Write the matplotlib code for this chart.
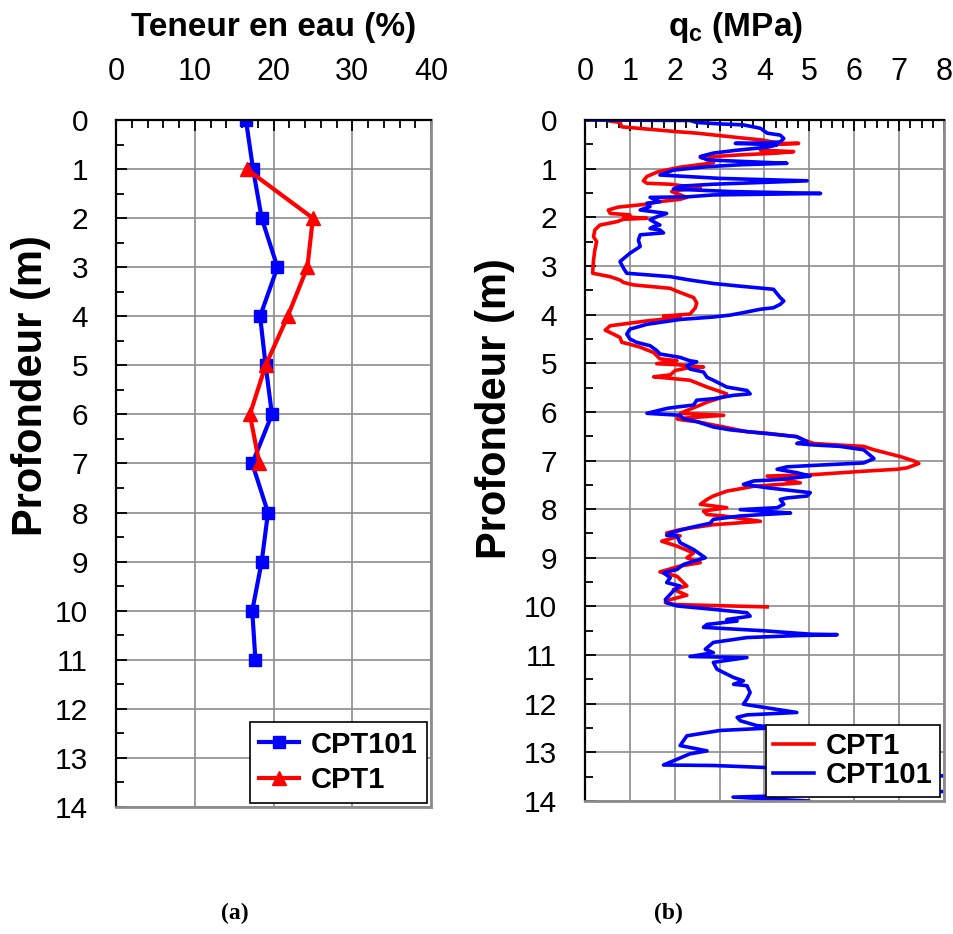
import matplotlib
matplotlib.use("Agg")
import matplotlib.pyplot as plt
from matplotlib.ticker import MultipleLocator

plt.rcParams['font.family'] = ['Liberation Sans', 'DejaVu Sans']
plt.rcParams['mathtext.fontset'] = 'custom'
plt.rcParams['mathtext.rm'] = 'Liberation Sans:bold'
plt.rcParams['mathtext.default'] = 'rm'

# (a) water content vs depth
depth_w101 = [0, 1, 2, 3, 4, 5, 6, 7, 8, 9, 10, 11]
w101 = [16.5, 17.4, 18.5, 20.5, 18.3, 19.0, 19.8, 17.3, 19.3, 18.5, 17.3, 17.7]
depth_w1 = [1, 2, 3, 4, 5, 6, 7]
w1 = [16.6, 25.0, 24.3, 21.8, 19.0, 17.0, 18.2]

# (b) cone resistance profiles
qc1 = [0.55, 0.78, 0.82, 2.05, 2.49, 3.09, 3.61, 3.94, 4.35, 4.76, 4.06, 3.94, 3.91, 4.65, 4.28,
       3.39, 2.57, 2.86, 2.86, 2.12, 1.64, 1.38, 1.30, 1.38, 1.90, 2.57, 2.12, 1.93, 2.27, 2.12,
       1.64, 1.38, 0.74, 0.52, 0.56, 1.00, 0.86, 1.38, 0.86, 0.71, 0.33, 0.22, 0.19, 0.26, 0.22,
       0.19, 0.17, 0.56, 0.78, 0.86, 1.08, 1.90, 2.05, 2.42, 2.49, 2.46, 2.34, 1.75, 2.12, 1.38,
       0.56, 0.45, 0.63, 0.78, 0.82, 1.00, 1.23, 1.53, 1.67, 2.05, 1.60, 2.05, 2.64, 2.27, 2.01,
       1.90, 1.53, 1.90, 2.34, 2.72, 3.16, 3.09, 2.72, 2.57, 2.12, 3.09, 2.05, 2.19, 2.49, 2.86,
       3.09, 3.61, 4.06, 4.72, 4.87, 5.10, 5.62, 6.21, 6.44, 7.03, 7.33, 7.44, 7.18, 6.96, 6.21,
       5.10, 4.06, 4.80, 3.76, 3.16, 2.86, 2.72, 2.57, 3.16, 2.64, 2.72, 3.09, 3.91, 3.46, 2.86,
       2.12, 1.82, 2.12, 1.71, 2.05, 2.42, 2.27, 2.57, 2.12, 1.67, 2.05, 2.27, 1.97, 2.27, 1.90,
       1.79, 1.97, 4.06]
z1 = [0.02, 0.05, 0.14, 0.24, 0.27, 0.33, 0.38, 0.41, 0.48, 0.48, 0.51, 0.56, 0.62, 0.65, 0.68,
      0.72, 0.77, 0.82, 0.88, 0.97, 1.06, 1.16, 1.25, 1.30, 1.32, 1.40, 1.44, 1.47, 1.59, 1.63,
      1.68, 1.73, 1.79, 1.85, 1.92, 1.95, 1.99, 2.02, 2.04, 2.09, 2.16, 2.26, 2.40, 2.50, 2.67,
      2.88, 3.15, 3.22, 3.29, 3.34, 3.39, 3.46, 3.52, 3.65, 3.76, 3.86, 3.99, 4.03, 4.06, 4.13,
      4.23, 4.32, 4.40, 4.47, 4.57, 4.61, 4.67, 4.78, 4.91, 4.95, 5.01, 5.03, 5.08, 5.10, 5.15,
      5.24, 5.28, 5.31, 5.35, 5.49, 5.63, 5.69, 5.80, 5.86, 6.03, 6.07, 6.14, 6.17, 6.20, 6.27,
      6.31, 6.41, 6.44, 6.51, 6.58, 6.65, 6.68, 6.71, 6.78, 6.92, 7.01, 7.06, 7.15, 7.18, 7.22,
      7.29, 7.32, 7.46, 7.53, 7.63, 7.73, 7.80, 7.90, 7.97, 8.04, 8.11, 8.14, 8.25, 8.28, 8.32,
      8.42, 8.49, 8.55, 8.66, 8.76, 8.90, 9.00, 9.10, 9.17, 9.29, 9.38, 9.58, 9.65, 9.77, 9.86,
      9.92, 9.96, 10.01]

qc101 = [0.00, 2.34, 2.49, 3.01, 3.53, 3.91, 4.06, 4.35, 4.43, 4.35, 4.06, 3.35, 4.28, 4.06, 3.39,
         2.86, 2.57, 2.72, 4.50, 3.46, 2.72, 1.97, 1.67, 3.01, 4.95, 2.86, 2.12, 1.97, 3.24, 5.25,
         2.86, 2.27, 1.45, 1.67, 1.38, 1.45, 1.23, 1.82, 1.60, 1.45, 1.67, 1.53, 1.45, 1.67, 1.75,
         1.23, 1.19, 1.23, 1.00, 0.78, 0.86, 0.93, 1.90, 2.34, 2.86, 3.39, 4.20, 4.35, 4.43, 4.35,
         4.20, 3.91, 3.53, 3.24, 2.86, 2.12, 1.38, 1.00, 0.93, 1.00, 1.15, 1.45, 1.60, 1.67, 2.12,
         2.34, 2.49, 2.27, 2.34, 2.64, 2.72, 2.86, 3.01, 3.16, 3.61, 3.68, 3.31, 2.86, 2.49, 2.42,
         2.05, 1.82, 1.38, 2.12, 2.19, 2.49, 2.86, 3.24, 3.98, 4.72, 4.95, 4.72, 5.10, 5.69, 6.21,
         6.44, 6.21, 5.10, 4.50, 4.28, 4.72, 5.02, 4.35, 3.76, 3.53, 4.06, 4.43, 5.02, 4.95, 4.50,
         4.35, 4.43, 4.28, 3.46, 4.58, 3.98, 3.46, 2.86, 2.79, 2.34, 1.90, 1.82, 2.05, 2.12, 2.42,
         2.68, 2.42, 2.19, 2.05, 1.75, 1.90, 1.82, 2.12, 1.97, 1.90, 1.79, 1.82, 2.05, 2.86, 3.61,
         3.68, 3.16, 3.39, 2.72, 2.64, 3.98, 5.02, 5.62, 4.72, 3.61, 2.86, 2.68, 2.86, 2.34, 3.61,
         2.86, 2.94, 3.09, 3.31, 3.53, 3.31, 3.61, 3.68, 3.61, 3.53, 4.72, 3.61, 3.39, 3.46, 3.83,
         4.35, 3.01, 2.27, 2.12, 2.72, 2.34, 1.75, 2.86, 3.98, 6.50, 8.60, 8.60, 3.30, 5.00, 3.30]
z101 = [0.00, 0.01, 0.05, 0.08, 0.10, 0.17, 0.27, 0.31, 0.38, 0.45, 0.47, 0.48, 0.51, 0.56, 0.62,
        0.68, 0.75, 0.82, 0.89, 0.92, 0.96, 1.03, 1.13, 1.20, 1.25, 1.32, 1.36, 1.42, 1.47, 1.51,
        1.54, 1.58, 1.59, 1.68, 1.71, 1.78, 1.85, 1.92, 1.99, 2.05, 2.16, 2.19, 2.23, 2.26, 2.32,
        2.36, 2.47, 2.60, 2.74, 2.91, 3.05, 3.15, 3.22, 3.29, 3.36, 3.41, 3.48, 3.65, 3.72, 3.79,
        3.86, 3.89, 3.96, 4.01, 4.05, 4.10, 4.20, 4.30, 4.40, 4.50, 4.57, 4.64, 4.74, 4.81, 4.88,
        4.95, 4.97, 5.05, 5.12, 5.18, 5.29, 5.35, 5.42, 5.49, 5.56, 5.63, 5.66, 5.73, 5.76, 5.86,
        5.90, 5.93, 6.03, 6.07, 6.14, 6.20, 6.31, 6.37, 6.44, 6.51, 6.61, 6.65, 6.68, 6.71, 6.78,
        6.96, 7.05, 7.10, 7.13, 7.18, 7.25, 7.32, 7.39, 7.42, 7.49, 7.56, 7.60, 7.66, 7.73, 7.77,
        7.80, 7.90, 7.97, 8.01, 8.08, 8.11, 8.14, 8.21, 8.29, 8.38, 8.49, 8.54, 8.55, 8.69, 8.83,
        9.00, 9.07, 9.14, 9.24, 9.31, 9.41, 9.51, 9.58, 9.68, 9.75, 9.86, 9.92, 9.99, 10.06, 10.13,
        10.20, 10.27, 10.30, 10.37, 10.43, 10.50, 10.57, 10.58, 10.60, 10.64, 10.74, 10.88, 10.95, 11.03, 11.05,
        11.15, 11.29, 11.36, 11.46, 11.53, 11.60, 11.63, 11.77, 11.90, 12.01, 12.18, 12.23, 12.28, 12.35, 12.45,
        12.49, 12.55, 12.66, 12.86, 12.97, 13.03, 13.26, 13.27, 13.31, 13.40, 13.52, 13.79, 13.92, 14.00, 14.10]


def style_axis(ax, xmax, xmajor, xminor):
    ax.set_xlim(0, xmax)
    ax.set_ylim(14, 0)
    ax.xaxis.set_major_locator(MultipleLocator(xmajor))
    ax.xaxis.set_minor_locator(MultipleLocator(xminor))
    ax.yaxis.set_major_locator(MultipleLocator(1))
    ax.yaxis.set_minor_locator(MultipleLocator(0.5))
    ax.xaxis.tick_top()
    ax.xaxis.set_label_position('top')
    ax.tick_params(which='both', direction='in', color='black', width=1.3,
                   top=True, bottom=False, left=True, right=False)
    ax.tick_params(which='major', length=8)
    ax.tick_params(which='minor', length=6)
    ax.tick_params(axis='x', which='major', pad=24, labelsize=22)
    ax.tick_params(axis='y', which='major', pad=20, labelsize=21.5)
    ax.grid(True, which='major', color='#8c8c8c', linewidth=1.2)
    ax.set_axisbelow(True)
    for side in ('left', 'top'):
        ax.spines[side].set_color('black')
        ax.spines[side].set_linewidth(1.6)
    for side in ('right', 'bottom'):
        ax.spines[side].set_color('#8c8c8c')
        ax.spines[side].set_linewidth(2.0)
    ax.set_ylabel('Profondeur (m)', fontsize=30, fontweight='bold')


fig = plt.figure(figsize=(9.54, 9.34), dpi=100)
ax1 = fig.add_axes([0.1216, 0.136, 0.3302, 0.7355])
ax2 = fig.add_axes([0.6132, 0.1424, 0.3763, 0.7291])

# left panel
ax1.plot(w101, depth_w101, color='#0000ff', lw=3, marker='s', ms=8, label='CPT101')
ax1.plot(w1, depth_w1, color='#ff0000', lw=3, marker='^', ms=10, label='CPT1')
style_axis(ax1, 40, 10, 2)
ax1.set_xlabel('Teneur en eau (%)', fontsize=24, fontweight='bold')
ax1.xaxis.set_label_coords(0.5, 1.122)
ax1.yaxis.set_label_coords(-0.205, 0.614)
leg1 = ax1.legend(loc='lower right', prop={'weight': 'bold', 'size': 21}, frameon=True,
                  fancybox=False, framealpha=1, edgecolor='black', handlelength=1.4,
                  handletextpad=0.4, labelspacing=0.25, borderaxespad=0.15, borderpad=0.3)
leg1.get_frame().set_linewidth(1.2)

# right panel
ax2.plot(qc1, z1, color='#ff0000', lw=2.6, label='CPT1')
ax2.plot(qc101, z101, color='#0000ff', lw=2.6, label='CPT101')
style_axis(ax2, 8, 1, 0.25)
ax2.set_xlabel(r'$\mathrm{q}_\mathrm{c}$ (MPa)', fontsize=24, fontweight='bold')
ax2.xaxis.set_label_coords(0.42, 1.123)
ax2.yaxis.set_label_coords(-0.195, 0.576)
leg2 = ax2.legend(loc='lower right', prop={'weight': 'bold', 'size': 21}, frameon=True,
                  fancybox=False, framealpha=1, edgecolor='black', handlelength=1.4,
                  handletextpad=0.4, labelspacing=0.05, borderaxespad=0.15, borderpad=0.25)
leg2.get_frame().set_linewidth(1.2)

fig.text(235 / 954, 1 - 913 / 934, '(a)', ha='center', va='center', fontsize=17,
         fontweight='bold', family='Liberation Serif')
fig.text(668 / 954, 1 - 913 / 934, '(b)', ha='center', va='center', fontsize=17,
         fontweight='bold', family='Liberation Serif')

fig.savefig('out.png', dpi=100)
